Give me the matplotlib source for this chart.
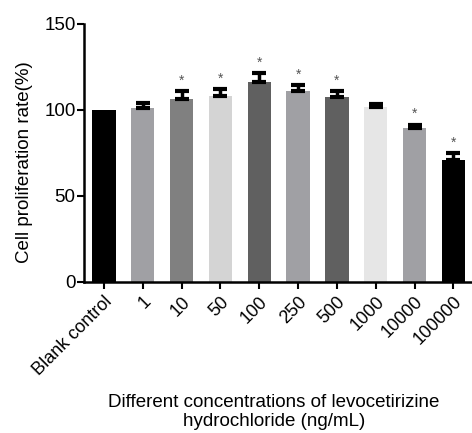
import numpy as np
import matplotlib
matplotlib.use('Agg')
import matplotlib.pyplot as plt

plt.rcParams['font.family'] = ['Liberation Sans', 'DejaVu Sans']

groups = ['Blank control', '1', '10', '50', '100', '250', '500', '1000', '10000', '100000']
rate = [100, 101, 106.4, 108.3, 116.5, 111.2, 107.7, 101.6, 89.7, 70.9]
err = [0, 2.8, 4.5, 3.9, 4.8, 3.3, 3.2, 2.1, 1.8, 4.1]
signif = [False, False, True, True, True, True, True, False, True, True]
colors = ['#000000', '#a0a0a4', '#808080', '#d4d4d4', '#606060',
          '#a0a0a4', '#606060', '#e6e6e6', '#a0a0a4', '#000000']

fig = plt.figure(figsize=(4.72, 4.33), dpi=100)
ax = fig.add_axes([84/472, 1-282/433, 1-84/472, (282-24)/433])

x = np.arange(len(groups))
ax.bar(x, rate, width=0.6, color=colors, zorder=2)
has_err = [i for i in range(len(groups)) if err[i] > 0]
ax.errorbar(x[has_err], np.array(rate)[has_err],
            yerr=[np.zeros(len(has_err)), np.array(err)[has_err]], fmt='none',
            ecolor='black', elinewidth=2.5, capsize=5, capthick=3, zorder=3)
for i in range(len(groups)):
    if signif[i]:
        ax.text(x[i], rate[i] + err[i] + 2, '*', ha='center', va='bottom',
                fontsize=10, color='#555555')

ax.set_xlim(-0.515, 9.48)
ax.set_ylim(0, 150)
ax.set_yticks([0, 50, 100, 150])
ax.set_xticks(x)
ax.set_xticklabels(groups, rotation=45, ha='right', rotation_mode='anchor', fontsize=13)
ax.tick_params(axis='y', labelsize=13.5, width=1.5, length=5, pad=1)
ax.tick_params(axis='x', width=1.5, length=5, pad=3)
for s in ['top', 'right']:
    ax.spines[s].set_visible(False)
for s in ['left', 'bottom']:
    ax.spines[s].set_linewidth(1.8)

ax.set_ylabel('Cell proliferation rate(%)', fontsize=13.5)
ax.yaxis.set_label_coords(-0.132, 0.465)
fig.text(0.58, 0.048, 'Different concentrations of levocetirizine\nhydrochloride (ng/mL)',
         ha='center', va='center', fontsize=13.5, linespacing=1.15)

fig.savefig('out.png', dpi=100)
